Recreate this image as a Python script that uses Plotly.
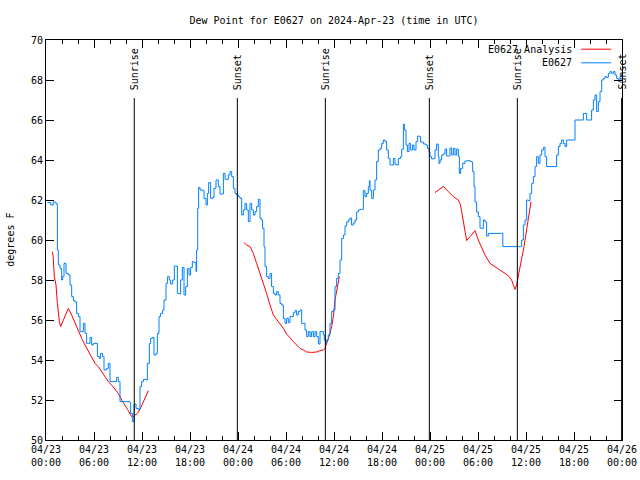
import pandas as pd
import plotly.graph_objects as go

BASE = pd.Timestamp("2024-04-23 00:00")

# Observed E0627 dew point: (hours since 04/23 00:00 UTC, degrees F)
obs_hours = [0.17,0.6,0.9,1.25,1.42,1.54,1.75,1.96,2.08,2.25,2.5,2.79,3.0,3.21,3.42,3.625,3.83,4.04,4.25,4.46,4.67,4.875,5.08,5.29,5.5,5.71,5.92,6.25,6.42,6.67,6.83,7.08,7.25,7.58,7.79,8.0,8.625,8.83,9.04,9.25,10.5,10.58,10.79,11.0,11.25,11.54,11.75,11.96,12.17,12.5,12.67,12.92,13.08,13.29,13.5,13.75,13.92,14.125,14.33,14.58,14.75,15.0,15.2,15.42,15.58,15.83,16.04,16.25,16.42,16.67,16.83,17.04,17.25,17.46,17.67,17.875,18.08,18.29,18.5,18.75,18.83,18.96,19.08,19.25,19.58,19.75,20.0,20.17,20.33,20.58,20.83,21.0,21.25,21.54,21.75,22.17,22.38,22.58,22.79,23.0,23.21,23.42,23.625,23.83,24.04,24.25,24.46,24.67,24.875,25.08,25.29,25.5,25.71,25.92,26.125,26.33,26.54,26.75,26.96,27.08,27.25,27.375,27.58,27.79,28.0,28.2,28.42,28.625,28.83,29.04,29.25,29.46,29.67,29.875,30.08,30.29,30.5,30.71,30.92,31.125,31.33,31.54,31.75,31.96,32.17,32.375,32.58,32.79,33.0,33.2,33.42,33.625,33.83,34.04,34.25,34.46,34.67,34.79,34.96,35.08,35.29,35.5,35.71,35.92,36.125,36.33,36.54,36.75,36.96,37.17,37.375,37.58,37.79,38.0,38.2,38.42,38.625,38.83,39.04,39.25,39.46,39.67,39.875,40.08,40.29,40.42,40.5,40.71,40.92,41.125,41.33,41.54,41.75,41.96,42.17,42.375,42.58,42.79,43.0,43.2,43.42,43.625,43.83,44.04,44.33,44.46,44.67,44.79,45.0,45.17,45.375,45.58,45.83,46.0,46.25,46.46,46.67,46.83,47.17,47.5,47.67,47.875,48.0,48.2,48.42,48.625,48.83,49.04,49.125,49.25,49.46,49.67,49.875,50.08,50.29,50.5,50.71,50.92,51.125,51.33,51.54,51.67,51.83,52.08,52.375,52.7,53.0,53.2,53.33,53.5,53.625,53.83,54.04,54.25,54.46,54.67,54.875,55.08,55.29,56.96,57.1,59.33,59.46,59.67,59.875,60.08,60.29,60.5,60.71,60.92,61.125,61.33,61.54,61.75,61.96,62.17,62.375,62.58,63.625,63.83,64.04,64.25,64.46,64.67,64.875,65.08,65.92,66.125,66.96,67.17,67.375,67.58,68.0,68.2,68.42,68.625,68.83,69.04,69.25,69.46,69.67,69.875,70.08,70.29,70.5,70.71,70.92,71.125,71.33,71.54,71.75,71.96]
obs_values = [61.87,61.75,61.9,61.8,59.5,58.75,58.58,58.0,58.17,58.83,58.33,58.25,57.75,57.17,56.97,56.9,56.33,56.17,55.42,55.42,55.83,55.33,54.83,54.83,55.13,54.75,54.83,54.83,54.17,54.08,54.33,54.17,53.5,53.58,53.83,52.92,52.92,53.13,52.92,51.92,51.87,51.33,50.92,51.8,51.58,51.53,52.67,52.92,53.03,53.0,53.83,54.83,55.08,55.13,54.25,54.33,55.33,56.17,56.33,56.5,57.0,57.83,58.17,58.0,57.8,58.0,58.7,58.7,57.33,57.3,58.0,58.63,57.25,57.67,58.58,58.25,58.63,58.92,58.87,58.42,59.5,61.58,62.63,62.5,62.47,62.08,61.75,62.33,62.87,62.08,62.13,62.58,63.0,62.67,62.3,63.33,63.03,63.03,63.25,63.42,63.17,62.58,62.33,62.25,62.17,62.08,61.25,61.5,61.83,61.5,60.92,61.83,61.5,61.25,61.42,61.67,62.03,61.08,61.0,60.58,59.67,58.67,58.17,58.08,58.33,57.67,57.33,57.25,57.42,57.25,56.83,56.75,56.08,55.83,56.08,55.87,56.17,56.17,56.37,56.47,56.25,56.42,56.5,55.83,55.83,55.5,55.17,55.42,55.17,55.42,55.17,55.42,55.17,54.8,55.42,55.42,55.25,55.0,54.83,55.0,55.25,55.83,56.42,56.5,57.67,58.08,58.33,59.0,60.08,60.25,60.7,60.9,61.0,61.1,60.75,60.85,61.0,61.4,61.5,61.53,61.53,62.47,62.17,62.33,62.67,62.97,62.5,62.08,62.5,63.0,63.92,64.5,64.58,64.83,65.0,64.92,64.5,64.08,63.75,63.75,64.08,63.78,63.75,64.08,64.17,64.53,65.8,65.5,64.75,64.42,64.83,64.5,64.75,64.5,64.92,65.2,65.17,64.9,64.8,64.75,64.58,64.4,64.17,64.05,64.08,64.5,64.8,64.17,63.83,64.0,64.25,64.3,64.55,64.2,64.2,64.6,64.25,64.58,64.25,64.55,64.17,63.33,63.58,63.83,63.95,63.97,63.92,63.9,63.42,62.67,61.9,61.4,61.17,60.6,60.58,61.0,60.9,60.2,60.33,60.33,59.67,59.67,60.0,60.75,61.0,62.0,61.97,62.33,62.83,63.17,63.67,64.17,63.83,64.25,64.5,64.63,64.17,63.67,63.67,64.25,64.67,64.83,65.0,64.83,64.67,65.0,65.0,66.0,66.0,66.33,66.33,66.0,66.0,66.5,67.0,67.25,66.42,66.92,67.42,68.0,68.08,68.17,68.13,68.33,68.42,68.33,68.42,68.25,68.08,67.92,68.17,68.33]

# E0627 Analysis (three separate runs; None marks the gaps)
ana_hours = [0.79,0.9,1.04,1.25,1.42,1.54,1.67,1.83,2.08,2.375,2.79,3.21,3.625,4.04,4.46,4.875,5.29,5.71,6.125,6.54,6.96,7.375,7.79,8.2,8.625,9.04,9.46,9.875,10.29,10.58,10.83,11.125,11.42,11.75,12.17,12.5,12.79,
             None,
             24.75,25.08,25.5,25.92,26.33,26.75,27.17,27.58,28.0,28.42,28.83,29.25,29.67,30.08,30.5,30.92,31.33,31.75,32.17,32.58,33.2,33.83,34.25,34.67,34.875,35.08,35.29,35.5,35.71,35.92,36.125,36.33,36.54,36.67,
             None,
             48.625,49.67,50.29,50.92,51.54,51.75,51.96,52.17,52.375,52.58,53.0,53.625,54.04,54.46,54.875,55.5,56.125,56.75,57.375,57.79,58.2,58.625,58.83,59.04,59.46,59.75,60.0,60.29,60.625]
ana_values = [59.42,59.17,58.17,57.75,56.83,56.33,55.92,55.67,55.92,56.25,56.58,56.25,55.83,55.5,55.08,54.75,54.42,54.08,53.83,53.67,53.42,53.17,52.92,52.75,52.53,52.33,52.0,51.75,51.47,51.25,51.13,51.25,51.33,51.53,51.92,52.25,52.47,
              None,
              59.87,59.75,59.67,59.33,58.83,58.33,57.92,57.33,56.75,56.25,56.03,55.83,55.58,55.3,55.08,54.92,54.75,54.58,54.5,54.4,54.38,54.4,54.47,54.5,54.58,54.83,55.03,55.33,55.67,56.17,57.0,57.5,58.0,58.17,
              None,
              62.37,62.68,62.42,62.17,62.0,61.83,61.42,60.92,60.5,59.97,60.17,60.47,60.0,59.58,59.25,58.83,58.67,58.5,58.33,58.22,58.0,57.53,57.75,58.25,59.08,59.67,60.33,61.17,61.92]

sun_times = ["2024-04-23 11:02", "2024-04-23 23:55", "2024-04-24 10:55",
             "2024-04-24 23:55", "2024-04-25 10:55", "2024-04-25 23:57"]
sun_labels = ["Sunrise", "Sunset", "Sunrise", "Sunset", "Sunrise", "Sunset"]

x_tick_times = ["2024-04-23 00:00", "2024-04-23 06:00", "2024-04-23 12:00", "2024-04-23 18:00",
                "2024-04-24 00:00", "2024-04-24 06:00", "2024-04-24 12:00", "2024-04-24 18:00",
                "2024-04-25 00:00", "2024-04-25 06:00", "2024-04-25 12:00", "2024-04-25 18:00",
                "2024-04-26 00:00"]
x_tick_labels = ["04/23<br>00:00", "04/23<br>06:00", "04/23<br>12:00", "04/23<br>18:00",
                 "04/24<br>00:00", "04/24<br>06:00", "04/24<br>12:00", "04/24<br>18:00",
                 "04/25<br>00:00", "04/25<br>06:00", "04/25<br>12:00", "04/25<br>18:00",
                 "04/26<br>00:00"]
y_ticks = [50, 52, 54, 56, 58, 60, 62, 64, 66, 68, 70]

series_names = ["E0627 Analysis", "E0627"]
series_colors = ["#ff0000", "#0080ff"]

FONT = "DejaVu Sans Mono"


def to_time(hours):
    return [None if h is None else BASE + pd.Timedelta(hours=h) for h in hours]


fig = go.Figure()
fig.add_trace(go.Scatter(x=to_time(ana_hours), y=ana_values, mode="lines",
                         line=dict(color=series_colors[0], width=1), connectgaps=False,
                         name=series_names[0], showlegend=False))
fig.add_trace(go.Scatter(x=to_time(obs_hours), y=obs_values, mode="lines",
                         line=dict(color=series_colors[1], width=1, shape="hv"),
                         name=series_names[1], showlegend=False))

shapes = []
annotations = []
for t, lab in zip(sun_times, sun_labels):
    shapes.append(dict(type="line", xref="x", yref="y", x0=t, x1=t, y0=50, y1=67.1,
                       line=dict(color="black", width=1)))
    annotations.append(dict(x=t, y=67.4, xref="x", yref="y", text=lab, textangle=-90,
                            showarrow=False, xanchor="center", yanchor="bottom",
                            font=dict(family=FONT, size=10, color="black")))

# gnuplot-style key: text then line sample
key_rows = [0.977, 0.943]
for name, color, yk in zip(series_names, series_colors, key_rows):
    annotations.append(dict(x=0.917, y=yk, xref="paper", yref="paper", text=name,
                            showarrow=False, xanchor="right", yanchor="middle",
                            font=dict(family=FONT, size=10, color="black")))
    shapes.append(dict(type="line", xref="paper", yref="paper", x0=0.929, x1=0.981,
                       y0=yk, y1=yk, line=dict(color=color, width=1)))

annotations.append(dict(x=-0.063, y=0.5, xref="paper", yref="paper", text="degrees F",
                        textangle=-90, showarrow=False, xanchor="center", yanchor="middle",
                        font=dict(family=FONT, size=10, color="black")))

fig.update_layout(
    width=640, height=480,
    margin=dict(l=46, r=18, t=40, b=40, autoexpand=False),
    paper_bgcolor="white", plot_bgcolor="white",
    title=dict(text="Dew Point for E0627 on 2024-Apr-23 (time in UTC)", x=0.5, xref="paper",
               y=1 - 20 / 480, yref="container", yanchor="middle", automargin=False,
               font=dict(family=FONT, size=10, color="black")),
    font=dict(family=FONT, size=10, color="black"),
    shapes=shapes, annotations=annotations,
)
fig.update_xaxes(range=[x_tick_times[0], x_tick_times[-1]], tickvals=x_tick_times,
                 ticktext=x_tick_labels, ticks="inside", ticklen=8, tickcolor="black",
                 showline=True, linecolor="black", linewidth=1, mirror="ticks",
                 showgrid=False, zeroline=False, automargin=False,
                 minor=dict(dtick=2 * 3600 * 1000, ticks="inside", ticklen=4, tickcolor="black",
                            showgrid=False),
                 tickfont=dict(family=FONT, size=10, color="black"))
fig.update_yaxes(range=[50, 70], tickvals=y_ticks, ticks="inside", ticklen=8, tickcolor="black",
                 showline=True, linecolor="black", linewidth=1, mirror="ticks",
                 showgrid=False, zeroline=False, automargin=False,
                 tickfont=dict(family=FONT, size=10, color="black"))

fig.write_html("out.html", config={"displayModeBar": False},
               post_script="document.body.style.margin='0px';document.body.style.overflow='hidden';")
